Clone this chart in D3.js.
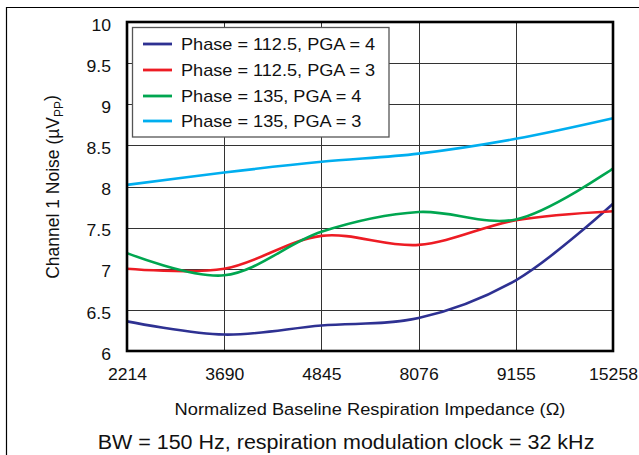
<!DOCTYPE html>
<html>
<head>
<meta charset="utf-8">
<script src="https://cdn.jsdelivr.net/npm/d3@7"></script>
<style>
  html, body { margin: 0; padding: 0; background: #fff; }
  svg { display: block; }
  text { font-family: "Liberation Sans", Arial, Helvetica, sans-serif; fill: #111; }
</style>
</head>
<body>
<svg id="chart" width="639" height="455"></svg>
<script>
// ---- data ----
const categories = ["2214", "3690", "4845", "8076", "9155", "15258"];
const seriesNames = [
  "Phase = 112.5, PGA = 4",
  "Phase = 112.5, PGA = 3",
  "Phase = 135, PGA = 4",
  "Phase = 135, PGA = 3"
];
const phase1125pga4 = [6.36, 6.20, 6.31, 6.40, 6.86, 7.79];
const phase1125pga3 = [7.00, 7.00, 7.40, 7.29, 7.59, 7.70];
const phase135pga4  = [7.19, 6.92, 7.45, 7.69, 7.60, 8.22];
const phase135pga3  = [8.02, 8.17, 8.30, 8.40, 8.58, 8.83];
const yTicks = [6, 6.5, 7, 7.5, 8, 8.5, 9, 9.5, 10];
const seriesColors = ["#2e3192", "#ed1c24", "#00a650", "#00aeef"];

const seriesValues = [phase1125pga4, phase1125pga3, phase135pga4, phase135pga3];

// ---- layout ----
const svg = d3.select("#chart");
const L = 127, R = 613, T = 22, B = 351;
const SX = 1.08; // horizontal text stretch

const x = d3.scalePoint().domain(categories).range([L, R]).padding(0);
const y = d3.scaleLinear().domain([6, 10]).range([B, T]);

// outer frame
svg.append("path")
  .attr("d", "M6.5,455 L6.5,7.5 L639,7.5")
  .attr("fill", "none").attr("stroke", "#000").attr("stroke-width", 1.2);

// gridlines
const grid = svg.append("g");
grid.selectAll("line.h").data(yTicks).join("line")
  .attr("x1", L).attr("x2", R)
  .attr("y1", d => Math.round(y(d)) + 0.5).attr("y2", d => Math.round(y(d)) + 0.5)
  .attr("stroke", "#333").attr("stroke-width", 1);
grid.selectAll("line.v").data(categories).join("line")
  .attr("y1", T).attr("y2", B)
  .attr("x1", d => Math.round(x(d)) + 0.5).attr("x2", d => Math.round(x(d)) + 0.5)
  .attr("stroke", "#333").attr("stroke-width", 1);

// axes (labels only)
const yAxis = d3.axisLeft(y).tickValues(yTicks).tickSize(0).tickPadding(0)
  .tickFormat(d3.format("~g"));
const gy = svg.append("g").attr("transform", `translate(${L},0)`).call(yAxis);
gy.select(".domain").remove();
gy.selectAll("text")
  .attr("x", -16 / SX).attr("dy", "0.5em")
  .attr("transform", `scale(${SX},1)`)
  .style("font-size", "16.3px").style("fill", "#111");

const xAxis = d3.axisBottom(x).tickSize(0).tickPadding(0);
const gx = svg.append("g").attr("transform", `translate(0,${B})`).call(xAxis);
gx.select(".domain").remove();
gx.selectAll("text")
  .attr("y", 17).attr("dy", "0.71em")
  .attr("transform", `scale(${SX},1)`)
  .style("font-size", "16.3px").style("fill", "#111");
// scale about 0 would shift x, so place ticks by x attribute in local units
gx.selectAll(".tick").each(function() {
  // tick group already translated; text at x=0 -> unaffected by scale
});

// lines
const line = d3.line()
  .x((d, i) => x(categories[i]))
  .y(d => y(d))
  .curve(d3.curveCatmullRom.alpha(0.5));

svg.append("g").selectAll("path").data(seriesValues).join("path")
  .attr("d", d => line(d))
  .attr("fill", "none")
  .attr("stroke", (d, i) => seriesColors[i])
  .attr("stroke-width", 2.6)
  .attr("stroke-linejoin", "round");

// plot border
svg.append("rect")
  .attr("x", L).attr("y", T).attr("width", R - L).attr("height", B - T)
  .attr("fill", "none").attr("stroke", "#000").attr("stroke-width", 2.6);

// legend
const lg = svg.append("g");
lg.append("rect")
  .attr("x", 132.5).attr("y", 27.5).attr("width", 256.5).attr("height", 109.5)
  .attr("fill", "#fff").attr("stroke", "#555").attr("stroke-width", 1.3);
const rowY = [44, 70, 96, 121];
const items = lg.selectAll("g.item").data(seriesNames).join("g")
  .attr("transform", (d, i) => `translate(0,${rowY[i]})`);
items.append("line")
  .attr("x1", 143).attr("x2", 172).attr("y1", 0).attr("y2", 0)
  .attr("stroke", (d, i) => seriesColors[i]).attr("stroke-width", 2.8);
items.append("text")
  .attr("transform", `translate(181,0) scale(${SX},1)`)
  .attr("dy", "0.36em")
  .style("font-size", "16.8px")
  .text(d => d);

// axis titles
svg.append("text")
  .attr("transform", `translate(${(L + R) / 2},415) scale(${SX},1)`)
  .attr("text-anchor", "middle")
  .style("font-size", "16.9px")
  .text("Normalized Baseline Respiration Impedance (Ω)");

const yt = svg.append("text")
  .attr("transform", `translate(59,187) rotate(-90)`)
  .attr("text-anchor", "middle")
  .style("font-size", "17.5px");
yt.append("tspan").text("Channel 1 Noise (µV");
yt.append("tspan").attr("dy", "0.3em").style("font-size", "12px").text("PP");
yt.append("tspan").attr("dy", "-0.3em").text(")");

// caption
svg.append("text")
  .attr("transform", `translate(346,449) scale(${SX},1)`)
  .attr("text-anchor", "middle")
  .style("font-size", "19.9px")
  .text("BW = 150 Hz, respiration modulation clock = 32 kHz");
</script>
</body>
</html>
